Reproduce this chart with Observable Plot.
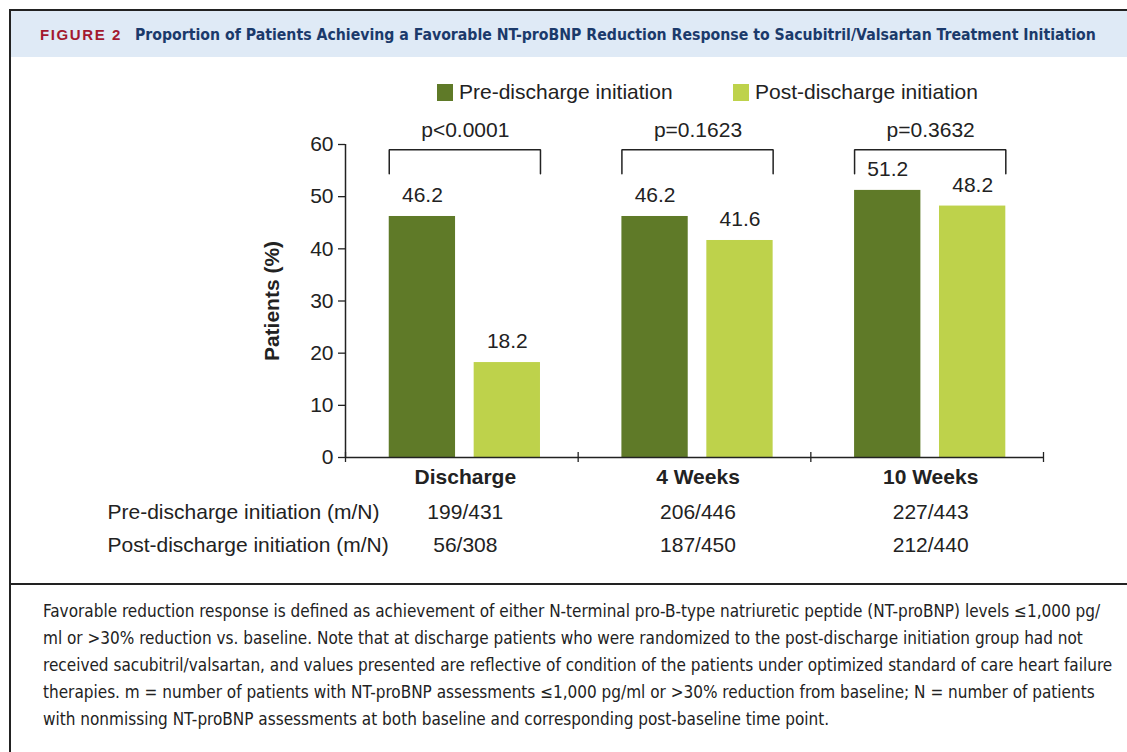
<!DOCTYPE html>
<html>
<head>
<meta charset="utf-8">
<script src="https://cdn.jsdelivr.net/npm/d3@7"></script>
<script src="https://cdn.jsdelivr.net/npm/@observablehq/plot@0.6"></script>
<style>
  html, body { margin: 0; padding: 0; background: #fff; }
  body { width: 1127px; height: 752px; position: relative; overflow: hidden; font-family: "Liberation Sans", Arial, sans-serif; color: #222; }
  #frame { position: absolute; left: 9px; top: 9px; width: 1130px; height: 760px; border-left: 2px solid #222; border-top: 2px solid #222; }
  #header { position: absolute; left: 11px; top: 11px; width: 1116px; height: 46px; background: #dfeaf6; }
  #fig { position: absolute; left: 40px; top: 25px; line-height: 20px; white-space: nowrap; color: #a3192f; font-weight: bold; font-size: 15px; letter-spacing: 1.6px; }
  #ttl { position: absolute; left: 135px; top: 25px; line-height: 20px; white-space: nowrap; color: #1b3a6b; font-weight: bold; font-family: "DejaVu Sans Condensed", "DejaVu Sans", sans-serif; font-stretch: condensed; font-size: 15px; }
  .leg { position: absolute; top: 81px; height: 22px; display: flex; align-items: center; white-space: nowrap; font-size: 21px; }
  .leg .sw { width: 16px; height: 17px; margin-right: 6px; }
  #chart { position: absolute; left: 0; top: 105px; }
  #sep { position: absolute; left: 9px; top: 583px; width: 1120px; height: 2px; background: #222; }
  #note { position: absolute; left: 43px; top: 598px; white-space: nowrap; font-family: "DejaVu Sans Condensed", "DejaVu Sans", sans-serif; font-stretch: condensed; font-size: 15px; line-height: 27px; color: #222; }
</style>
</head>
<body>
<div id="frame"></div>
<div id="header"></div>
<div id="fig">FIGURE 2</div>
<div id="ttl">Proportion of Patients Achieving a Favorable NT-proBNP Reduction Response to Sacubitril/Valsartan Treatment Initiation</div>
<div id="legend"></div>
<div id="chart"></div>
<div id="sep"></div>
<div id="note"><span id="l1">Favorable reduction response is defined as achievement of either N-terminal pro-B-type natriuretic peptide (NT-proBNP) levels ≤1,000 pg/</span><br>ml or &gt;30% reduction vs. baseline. Note that at discharge patients who were randomized to the post-discharge initiation group had not<br>received sacubitril/valsartan, and values presented are reflective of condition of the patients under optimized standard of care heart failure<br>therapies. m = number of patients with NT-proBNP assessments ≤1,000 pg/ml or &gt;30% reduction from baseline; N = number of patients<br>with nonmissing NT-proBNP assessments at both baseline and corresponding post-baseline time point.</div>
<script>
// ---- data ----
const categories = ["Discharge", "4 Weeks", "10 Weeks"];
const groups = ["Pre-discharge initiation", "Post-discharge initiation"];
const preValues = [46.2, 46.2, 51.2];
const postValues = [18.2, 41.6, 48.2];
const pValues = ["p<0.0001", "p=0.1623", "p=0.3632"];
const preCounts = ["199/431", "206/446", "227/443"];
const postCounts = ["56/308", "187/450", "212/440"];
const rowLabels = ["Pre-discharge initiation (m/N)", "Post-discharge initiation (m/N)"];
const yTicks = [0, 10, 20, 30, 40, 50, 60];

// ---- styling ----
const colors = ["#5f7a28", "#bed24b"];
const barOffsets = [0.188, 0.553];
const barW = 0.285;
const bracketTop = 59, bracketLeg = 54.4;
const FONT = "Liberation Sans, Arial, sans-serif";

// fit header title and note widths to the reference
function fitWidth(el, target, base) {
  const w = el.getBoundingClientRect().width;
  if (w > 0) el.style.fontSize = (base * target / w).toFixed(2) + "px";
}
fitWidth(document.getElementById("ttl"), 961, 15);
const note = document.getElementById("note");
const l1 = document.getElementById("l1");
{
  const w = l1.getBoundingClientRect().width;
  if (w > 0) note.style.fontSize = (15 * 1057 / w).toFixed(2) + "px";
}

// legend (HTML)
const legendX = [437, 733];
groups.forEach((g, k) => {
  const d = document.createElement("div");
  d.className = "leg";
  d.style.left = legendX[k] + "px";
  d.innerHTML = `<span class="sw" style="background:${colors[k]}"></span><span>${g}</span>`;
  document.getElementById("legend").appendChild(d);
});

const bars = [];
categories.forEach((c, i) => {
  bars.push({cat: c, idx: i, group: groups[0], value: preValues[i], off: barOffsets[0]});
  bars.push({cat: c, idx: i, group: groups[1], value: postValues[i], off: barOffsets[1]});
});

const brackets = [];
categories.forEach((c, i) => {
  const l = i + barOffsets[0], r = i + barOffsets[1] + barW;
  brackets.push({idx: i, x: l, y: bracketLeg}, {idx: i, x: l, y: bracketTop},
                {idx: i, x: r, y: bracketTop}, {idx: i, x: r, y: bracketLeg});
});

const center = (d, i) => i + 0.515;

const chart = Plot.plot({
  width: 1127,
  height: 470,
  marginLeft: 345,
  marginRight: 84,
  marginTop: 39,
  marginBottom: 118,
  style: {fontFamily: FONT, fontSize: "21px", color: "#222", background: "transparent", overflow: "visible"},
  x: {domain: [0, 3], axis: null},
  y: {domain: [0, 60]},
  color: {domain: groups, range: colors},
  marks: [
    Plot.rectY(bars, {x1: d => d.idx + d.off, x2: d => d.idx + d.off + barW, y1: 0, y2: "value", fill: "group"}),
    Plot.axisY({ticks: yTicks, tickSize: 7, tickPadding: 5, label: null, fontSize: 21, stroke: "#222", strokeWidth: 1.3}),
    Plot.ruleX([0], {stroke: "#222", strokeWidth: 1.5}),
    Plot.ruleY([0], {stroke: "#222", strokeWidth: 1.5}),
    Plot.ruleX([0, 1, 2, 3], {insetTop: 308, insetBottom: -5, stroke: "#222", strokeWidth: 1.3}),
    Plot.text(bars, {x: d => d.idx + d.off + barW / 2, y: "value", text: d => d.value.toFixed(1), dy: -21, fontSize: 21, fill: "#222"}),
    Plot.line(brackets, {x: "x", y: "y", z: "idx", stroke: "#222", strokeWidth: 1.5, strokeLinejoin: "miter"}),
    Plot.text(pValues, {x: center, y: () => bracketTop, text: d => d, dy: -19, fontSize: 21, fill: "#222"}),
    Plot.text(categories, {x: center, frameAnchor: "bottom", text: d => d, dy: 26, fontSize: 21, fontWeight: "bold", fill: "#222"}),
    Plot.text(preCounts, {x: center, frameAnchor: "bottom", text: d => d, dy: 61, fontSize: 21, fill: "#222"}),
    Plot.text(postCounts, {x: center, frameAnchor: "bottom", text: d => d, dy: 94, fontSize: 21, fill: "#222"}),
    Plot.text([rowLabels[0]], {frameAnchor: "bottom-left", textAnchor: "start", text: d => d, dx: -238, dy: 61, fontSize: 21, fill: "#222"}),
    Plot.text([rowLabels[1]], {frameAnchor: "bottom-left", textAnchor: "start", text: d => d, dx: -238, dy: 94, fontSize: 21, fill: "#222"}),
    Plot.text(["Patients (%)"], {frameAnchor: "left", textAnchor: "middle", rotate: -90, text: d => d, dx: -73, fontSize: 21, fontWeight: "bold", fill: "#222"})
  ]
});
document.getElementById("chart").appendChild(chart);
</script>
</body>
</html>
